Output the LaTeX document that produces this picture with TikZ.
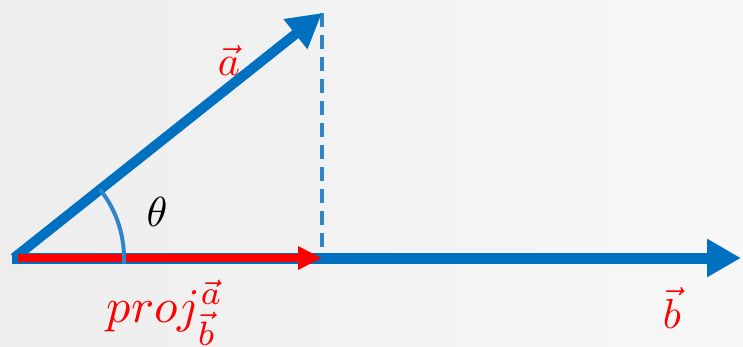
\documentclass[tikz,border=0pt]{standalone}
\usetikzlibrary{arrows.meta}
\definecolor{vblue}{HTML}{0070C0}
\definecolor{lblue}{HTML}{2E86C8}
\definecolor{vred}{HTML}{FF0000}
\begin{document}
\begin{tikzpicture}[x=1pt,y=1pt,
  vecline/.style={draw=vblue,line width=11pt,-{Triangle[length=34pt,width=36pt]}},
  projline/.style={draw=vred,line width=8pt,-{Triangle[length=24pt,width=22pt]}},
  helper/.style={draw=lblue,line width=4pt},
  lbl/.style={text=vred,scale=4.2,inner sep=0pt}]
\shade[left color=black!7,right color=black!3] (0,0) rectangle (743,346);
\useasboundingbox (0,0) rectangle (743,346);
\coordinate (O) at (14,88);
\coordinate (A) at (322,333);
\coordinate (F) at (322,88);
\coordinate (B) at (741,88);
\draw[helper,dash pattern=on 14pt off 8pt] (A) -- (F);
\draw[vecline,shorten <=-2pt] (O) -- (B);
\draw[vecline,line width=10pt] (O) -- (A);
\draw[projline] ([xshift=4pt]O) -- (F);
\draw[helper] (O) ++(38.5:110) arc[start angle=38.5,end angle=-3,radius=110];
\node[inner sep=0pt,scale=4.2] (th) at (157,134) {$\theta$};
\node[lbl] (la) at (229,286) {$\vec{a}$};
\node[lbl] (lb) at (672,38) {$\vec{b}$};
\node[lbl,scale=1.15,anchor=base west] (lp) at (106,24) {$proj_{\vec{b}}^{\vec{a}}$};
\end{tikzpicture}
\end{document}
